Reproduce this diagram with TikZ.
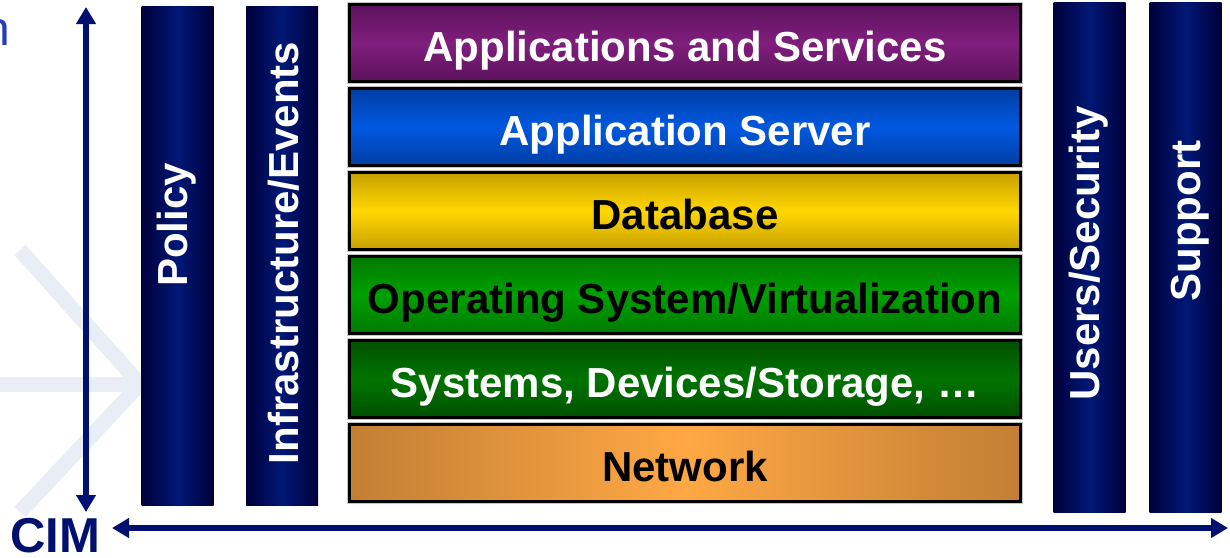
\documentclass[tikz,border=0pt]{standalone}
\usepackage{fontspec}
\setmainfont{Liberation Sans}
\usetikzlibrary{arrows.meta}

\definecolor{navyD}{RGB}{0,0,58}
\definecolor{navyM}{RGB}{0,24,118}
\definecolor{axisblue}{RGB}{0,16,112}
\definecolor{nblue}{RGB}{40,60,190}
\definecolor{wmark}{RGB}{233,237,245}
\definecolor{Eapps}{RGB}{92,18,92}
\definecolor{Mapps}{RGB}{128,30,125}
\definecolor{Esrv}{RGB}{0,62,165}
\definecolor{Msrv}{RGB}{0,88,224}
\definecolor{Edb}{RGB}{200,160,0}
\definecolor{Mdb}{RGB}{255,215,0}
\definecolor{Eos}{RGB}{0,122,0}
\definecolor{Mos}{RGB}{0,160,0}
\definecolor{Esys}{RGB}{0,80,0}
\definecolor{Msys}{RGB}{0,116,0}
\definecolor{Enet}{RGB}{194,127,52}
\definecolor{Mnet}{RGB}{255,168,68}

\tikzset{
  pillar/.style={minimum width=72pt, minimum height=#1, inner sep=0pt,
    left color=navyD, right color=navyD, middle color=navyM},
  pillartext/.style={rotate=90, anchor=base, inner sep=0pt, text=white,
    font=\fontsize{42}{48}\selectfont\bfseries},
  layer/.style={draw=black, line width=3pt, minimum width=671pt, minimum height=77pt,
    inner sep=0pt, text height=36pt, text depth=0pt,
    preaction={draw=gray!45, line width=5pt},
    font=\fontsize{42}{48}\selectfont\bfseries},
  axis/.style={<->, line width=5.5pt, draw=axisblue, >={Triangle[width=19pt,length=17pt]}},
}

\begin{document}
\begin{tikzpicture}[x=1pt,y=-1pt]
    \useasboundingbox (0,0) rectangle (1230,557);
    % faint watermark arrow
    \draw[wmark, line width=15pt] (0,384) -- (140,384);
    \draw[wmark, line width=15pt] (20,250) -- (140,384) -- (20,512);
    \node[anchor=base east, inner sep=0pt, text=nblue, font=\fontsize{48}{56}\selectfont] (ntxt) at (10,45) {n};

    % side pillars
    \node[pillar=499pt] (policy) at (177.5,255.5) {};
    \node[pillar=499pt] (infra) at (282,255.5) {};
    \node[pillar=510pt] (users) at (1089.5,257) {};
    \node[pillar=510pt] (support) at (1185.5,257) {};
    \node[pillartext] (policytxt) at (187,225) {Policy};
    \node[pillartext] (infratxt) at (298,253) {Infrastructure/Events};
    \node[pillartext] (userstxt) at (1099,253.5) {Users/Security};
    \node[pillartext] (supporttxt) at (1200,221) {Support};

    % the stack
    \foreach \i/\nm/\lbl/\tc in {0/apps/{Applications and Services}/white,
        1/srv/{Application Server}/white, 2/db/{Database}/black,
        3/os/{Operating System/Virtualization}/black,
        4/sys/{Systems, Devices/Storage, …}/white}
    {
    \node[layer, top color=E\nm, bottom color=E\nm, middle color=M\nm, text=\tc] (\nm) at (685,43+84*\i) {\lbl};
    }
    \node[layer, left color=Enet, right color=Enet, middle color=Mnet, text=black] (net) at (685,463) {Network};

    % CIM axes
    \node[anchor=base west, inner sep=0pt, text=axisblue, font=\fontsize{49}{56}\selectfont\bfseries] (cim) at (10,552) {CIM};
    \coordinate (vtop) at (86,7);
    \coordinate (vbot) at (86,512);
    \coordinate (hleft) at (112,528);
    \coordinate (hright) at (1228,528);
    \draw[axis] (vtop) -- (vbot);
    \draw[axis] (hleft) -- (hright);
\end{tikzpicture}
\end{document}
